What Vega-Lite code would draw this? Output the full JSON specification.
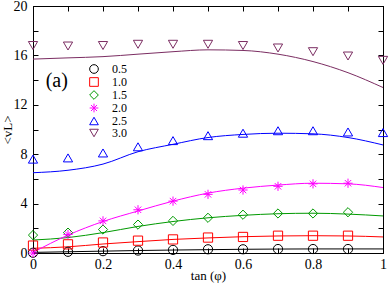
{
  "$schema": "https://vega.github.io/schema/vega-lite/v6.json",
  "width": 350,
  "height": 247,
  "autosize": {"type": "none"},
  "padding": {"left": 33, "top": 6, "right": 7, "bottom": 32},
  "background": "white",
  "config": {
    "font": "Liberation Serif",
    "view": {"stroke": "black", "strokeWidth": 1},
    "axis": {
      "grid": false,
      "domainColor": "black",
      "tickColor": "black",
      "labelColor": "black",
      "titleColor": "black",
      "labelFont": "Liberation Serif",
      "titleFont": "Liberation Serif",
      "labelFontSize": 14,
      "titleFontSize": 14,
      "titleFontWeight": "normal",
      "tickSize": -5,
      "labelFlush": false,
      "labelOverlap": false,
      "labelBound": false
    }
  },
  "datasets": {
    "pts": [
      {"series": "0.5", "x": 0.0, "y": 0.02}, {"series": "0.5", "x": 0.1, "y": 0.1}, {"series": "0.5", "x": 0.2, "y": 0.15}, {"series": "0.5", "x": 0.3, "y": 0.2}, {"series": "0.5", "x": 0.4, "y": 0.25}, {"series": "0.5", "x": 0.5, "y": 0.3}, {"series": "0.5", "x": 0.6, "y": 0.3}, {"series": "0.5", "x": 0.7, "y": 0.32}, {"series": "0.5", "x": 0.8, "y": 0.32}, {"series": "0.5", "x": 0.9, "y": 0.32},
      {"series": "1.0", "x": 0.0, "y": 0.6}, {"series": "1.0", "x": 0.1, "y": 0.7}, {"series": "1.0", "x": 0.2, "y": 0.85}, {"series": "1.0", "x": 0.3, "y": 1.0}, {"series": "1.0", "x": 0.4, "y": 1.1}, {"series": "1.0", "x": 0.5, "y": 1.25}, {"series": "1.0", "x": 0.6, "y": 1.3}, {"series": "1.0", "x": 0.7, "y": 1.4}, {"series": "1.0", "x": 0.8, "y": 1.4}, {"series": "1.0", "x": 0.9, "y": 1.4},
      {"series": "1.5", "x": 0.0, "y": 1.45}, {"series": "1.5", "x": 0.1, "y": 1.65}, {"series": "1.5", "x": 0.2, "y": 1.9}, {"series": "1.5", "x": 0.3, "y": 2.3}, {"series": "1.5", "x": 0.4, "y": 2.6}, {"series": "1.5", "x": 0.5, "y": 2.85}, {"series": "1.5", "x": 0.6, "y": 3.1}, {"series": "1.5", "x": 0.7, "y": 3.2}, {"series": "1.5", "x": 0.8, "y": 3.2}, {"series": "1.5", "x": 0.9, "y": 3.3},
      {"series": "2.0", "x": 0.0, "y": 0.0}, {"series": "2.0", "x": 0.1, "y": 1.5}, {"series": "2.0", "x": 0.2, "y": 2.6}, {"series": "2.0", "x": 0.3, "y": 3.5}, {"series": "2.0", "x": 0.4, "y": 4.2}, {"series": "2.0", "x": 0.5, "y": 4.75}, {"series": "2.0", "x": 0.6, "y": 5.1}, {"series": "2.0", "x": 0.7, "y": 5.4}, {"series": "2.0", "x": 0.8, "y": 5.6}, {"series": "2.0", "x": 0.9, "y": 5.65},
      {"series": "2.5", "x": 0.0, "y": 7.6}, {"series": "2.5", "x": 0.1, "y": 7.7}, {"series": "2.5", "x": 0.2, "y": 8.1}, {"series": "2.5", "x": 0.3, "y": 8.6}, {"series": "2.5", "x": 0.4, "y": 9.1}, {"series": "2.5", "x": 0.5, "y": 9.5}, {"series": "2.5", "x": 0.6, "y": 9.7}, {"series": "2.5", "x": 0.7, "y": 9.9}, {"series": "2.5", "x": 0.8, "y": 9.9}, {"series": "2.5", "x": 0.9, "y": 9.8}, {"series": "2.5", "x": 1.0, "y": 9.75},
      {"series": "3.0", "x": 0.0, "y": 16.8}, {"series": "3.0", "x": 0.1, "y": 16.76}, {"series": "3.0", "x": 0.2, "y": 16.8}, {"series": "3.0", "x": 0.3, "y": 16.9}, {"series": "3.0", "x": 0.4, "y": 16.9}, {"series": "3.0", "x": 0.5, "y": 16.9}, {"series": "3.0", "x": 0.6, "y": 16.8}, {"series": "3.0", "x": 0.7, "y": 16.6}, {"series": "3.0", "x": 0.8, "y": 16.3}, {"series": "3.0", "x": 0.9, "y": 15.95}, {"series": "3.0", "x": 1.0, "y": 15.6}
    ],
    "fit": [
      {"curve": "0.5", "x": 0.0, "y": 0.05}, {"curve": "0.5", "x": 0.1, "y": 0.1}, {"curve": "0.5", "x": 0.2, "y": 0.15}, {"curve": "0.5", "x": 0.3, "y": 0.2}, {"curve": "0.5", "x": 0.4, "y": 0.24}, {"curve": "0.5", "x": 0.5, "y": 0.27}, {"curve": "0.5", "x": 0.6, "y": 0.3}, {"curve": "0.5", "x": 0.7, "y": 0.32}, {"curve": "0.5", "x": 0.8, "y": 0.33}, {"curve": "0.5", "x": 0.9, "y": 0.33}, {"curve": "0.5", "x": 1.0, "y": 0.33},
      {"curve": "1.0", "x": 0.0, "y": 0.38}, {"curve": "1.0", "x": 0.1, "y": 0.5}, {"curve": "1.0", "x": 0.2, "y": 0.73}, {"curve": "1.0", "x": 0.3, "y": 0.92}, {"curve": "1.0", "x": 0.4, "y": 1.1}, {"curve": "1.0", "x": 0.5, "y": 1.22}, {"curve": "1.0", "x": 0.6, "y": 1.32}, {"curve": "1.0", "x": 0.7, "y": 1.38}, {"curve": "1.0", "x": 0.8, "y": 1.4}, {"curve": "1.0", "x": 0.9, "y": 1.38}, {"curve": "1.0", "x": 1.0, "y": 1.3},
      {"curve": "1.5", "x": 0.0, "y": 1.05}, {"curve": "1.5", "x": 0.1, "y": 1.25}, {"curve": "1.5", "x": 0.2, "y": 1.65}, {"curve": "1.5", "x": 0.3, "y": 2.15}, {"curve": "1.5", "x": 0.4, "y": 2.55}, {"curve": "1.5", "x": 0.5, "y": 2.85}, {"curve": "1.5", "x": 0.6, "y": 3.05}, {"curve": "1.5", "x": 0.7, "y": 3.18}, {"curve": "1.5", "x": 0.8, "y": 3.22}, {"curve": "1.5", "x": 0.9, "y": 3.15}, {"curve": "1.5", "x": 1.0, "y": 3.0},
      {"curve": "2.0", "x": 0.0, "y": 0.05}, {"curve": "2.0", "x": 0.1, "y": 1.45}, {"curve": "2.0", "x": 0.2, "y": 2.55}, {"curve": "2.0", "x": 0.3, "y": 3.4}, {"curve": "2.0", "x": 0.4, "y": 4.2}, {"curve": "2.0", "x": 0.5, "y": 4.85}, {"curve": "2.0", "x": 0.6, "y": 5.25}, {"curve": "2.0", "x": 0.7, "y": 5.5}, {"curve": "2.0", "x": 0.8, "y": 5.65}, {"curve": "2.0", "x": 0.9, "y": 5.6}, {"curve": "2.0", "x": 1.0, "y": 5.3},
      {"curve": "2.5", "x": 0.0, "y": 6.5}, {"curve": "2.5", "x": 0.1, "y": 6.7}, {"curve": "2.5", "x": 0.2, "y": 7.2}, {"curve": "2.5", "x": 0.3, "y": 8.2}, {"curve": "2.5", "x": 0.4, "y": 8.8}, {"curve": "2.5", "x": 0.5, "y": 9.35}, {"curve": "2.5", "x": 0.6, "y": 9.6}, {"curve": "2.5", "x": 0.7, "y": 9.7}, {"curve": "2.5", "x": 0.8, "y": 9.65}, {"curve": "2.5", "x": 0.9, "y": 9.35}, {"curve": "2.5", "x": 1.0, "y": 8.75},
      {"curve": "3.0", "x": 0.0, "y": 15.7}, {"curve": "3.0", "x": 0.1, "y": 15.8}, {"curve": "3.0", "x": 0.2, "y": 15.9}, {"curve": "3.0", "x": 0.3, "y": 16.1}, {"curve": "3.0", "x": 0.4, "y": 16.3}, {"curve": "3.0", "x": 0.5, "y": 16.45}, {"curve": "3.0", "x": 0.6, "y": 16.4}, {"curve": "3.0", "x": 0.7, "y": 16.1}, {"curve": "3.0", "x": 0.8, "y": 15.5}, {"curve": "3.0", "x": 0.9, "y": 14.6}, {"curve": "3.0", "x": 1.0, "y": 13.4}
    ],
    "note": [{"label": "(a)"}]
  },
  "resolve": {"axis": {"x": "independent", "y": "independent"}, "legend": {"color": "independent", "shape": "independent"}},
  "layer": [
    {
      "data": {"name": "fit"},
      "mark": {"type": "line", "strokeWidth": 1, "interpolate": "monotone"},
      "encoding": {
        "x": {"field": "x", "type": "quantitative",
          "scale": {"domain": [0, 1], "nice": false, "zero": false},
          "axis": {"orient": "bottom", "title": "tan (φ)", "values": [0, 0.1, 0.2, 0.3, 0.4, 0.5, 0.6, 0.7, 0.8, 0.9, 1],
            "labelExpr": "round(datum.value*10) % 2 == 0 ? (datum.value == 0 || datum.value == 1 ? format(datum.value, 'd') : format(datum.value, '.1f')) : ''",
            "labelPadding": 9, "titlePadding": -2, "titleFontSize": 13}},
        "y": {"field": "y", "type": "quantitative",
          "scale": {"domain": [0, 20], "nice": false, "zero": false},
          "axis": {"orient": "left", "title": "<vL>", "values": [0, 2, 4, 6, 8, 10, 12, 14, 16, 18, 20],
            "labelExpr": "datum.value % 4 == 0 ? datum.label : ''",
            "labelPadding": 11, "titlePadding": -1, "titleFontSize": 13}},
        "stroke": {"field": "curve", "type": "nominal", "legend": null,
          "scale": {"domain": ["0.5", "1.0", "1.5", "2.0", "2.5", "3.0"], "range": ["#000000", "#ff0000", "#009900", "#ff00ff", "#0000ff", "#7b2d62"]}},
        "detail": {"field": "curve"}
      }
    },
    {
      "data": {"name": "pts"},
      "mark": {"type": "point", "filled": false, "size": 85, "strokeWidth": 1, "opacity": 1},
      "encoding": {
        "x": {"field": "x", "type": "quantitative",
          "axis": {"orient": "top", "title": null, "labels": false, "values": [0, 0.1, 0.2, 0.3, 0.4, 0.5, 0.6, 0.7, 0.8, 0.9, 1]}},
        "y": {"field": "y", "type": "quantitative",
          "axis": {"orient": "right", "title": null, "labels": false, "values": [0, 2, 4, 6, 8, 10, 12, 14, 16, 18, 20]}},
        "color": {"field": "series", "type": "nominal",
          "scale": {"domain": ["0.5", "1.0", "1.5", "2.0", "2.5", "3.0"], "range": ["#000000", "#ff0000", "#009900", "#ff00ff", "#0000ff", "#7b2d62"]},
          "legend": {"orient": "none", "legendX": 55, "legendY": 57, "title": null, "padding": 0,
            "labelFont": "Liberation Serif", "labelFontSize": 12, "labelColor": "black", "labelOffset": 12,
            "rowPadding": -2.7, "symbolStrokeWidth": 1, "symbolSize": 75, "symbolFillColor": "transparent"}},
        "shape": {"field": "series", "type": "nominal",
          "scale": {"domain": ["0.5", "1.0", "1.5", "2.0", "2.5", "3.0"], "range": ["circle", "square", "diamond", "M-1,0H1M0,-1V1M-0.7,-0.7L0.7,0.7M-0.7,0.7L0.7,-0.7", "triangle-up", "triangle-down"]},
          "legend": {"orient": "none", "legendX": 55, "legendY": 57, "title": null, "padding": 0,
            "labelFont": "Liberation Serif", "labelFontSize": 12, "labelColor": "black", "labelOffset": 12,
            "rowPadding": -2.7, "symbolStrokeWidth": 1, "symbolSize": 75, "symbolFillColor": "transparent"}}
      }
    },
    {
      "data": {"name": "note"},
      "mark": {"type": "text", "fontSize": 20, "font": "Liberation Serif", "align": "center", "baseline": "middle", "color": "black"},
      "encoding": {
        "text": {"field": "label"},
        "x": {"datum": 0.068, "type": "quantitative", "axis": null},
        "y": {"datum": 13.9, "type": "quantitative", "axis": null}
      }
    }
  ]
}
